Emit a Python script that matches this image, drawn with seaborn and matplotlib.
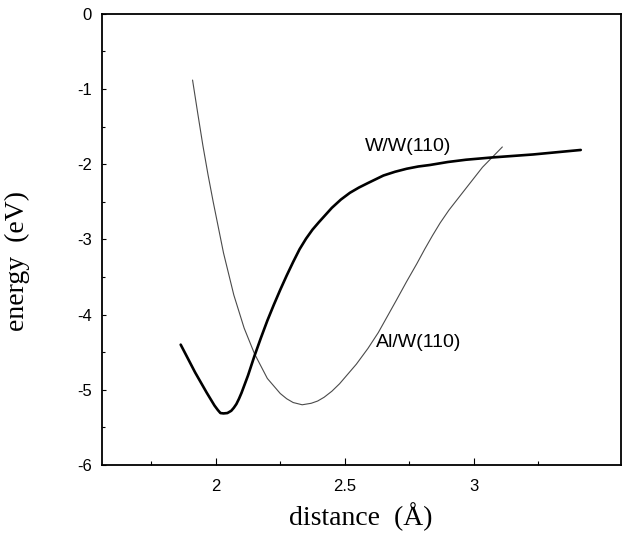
import matplotlib
matplotlib.use("Agg")
import matplotlib.pyplot as plt
import seaborn as sns
import pandas as pd
from matplotlib.ticker import MultipleLocator, FixedLocator

# W/W(110) curve
ww_x = [1.864, 1.92, 1.965, 1.995, 2.008, 2.018, 2.030, 2.045, 2.060, 2.070, 2.080,
        2.090, 2.100, 2.125, 2.150, 2.175, 2.200, 2.225, 2.250, 2.275, 2.300, 2.325,
        2.350, 2.375, 2.400, 2.450, 2.485, 2.520, 2.555, 2.590, 2.620, 2.650, 2.695,
        2.740, 2.785, 2.830, 2.900, 2.970, 3.070, 3.230, 3.415]
ww_y = [-4.40, -4.77, -5.04, -5.21, -5.27, -5.31, -5.315, -5.31, -5.28, -5.24, -5.19,
        -5.12, -5.04, -4.81, -4.55, -4.31, -4.08, -3.87, -3.67, -3.48, -3.30, -3.13,
        -2.99, -2.87, -2.77, -2.58, -2.47, -2.38, -2.31, -2.25, -2.20, -2.15, -2.10,
        -2.06, -2.03, -2.01, -1.97, -1.94, -1.91, -1.87, -1.81]

# Al/W(110) curve
al_x = [1.910, 1.930, 1.950, 1.970, 1.990, 2.030, 2.070, 2.110, 2.150, 2.200, 2.250,
        2.275, 2.300, 2.335, 2.370, 2.395, 2.420, 2.450, 2.480, 2.510, 2.545, 2.590,
        2.630, 2.700, 2.740, 2.780, 2.810, 2.840, 2.870, 2.904, 2.970, 3.034, 3.111]
al_y = [-0.88, -1.32, -1.75, -2.14, -2.50, -3.18, -3.74, -4.18, -4.52, -4.85, -5.05,
        -5.12, -5.17, -5.20, -5.18, -5.15, -5.10, -5.02, -4.92, -4.80, -4.66, -4.45,
        -4.24, -3.81, -3.56, -3.32, -3.13, -2.95, -2.78, -2.61, -2.32, -2.04, -1.77]

x_major = [2, 2.5, 3]
x_minor = [1.75, 2.25, 2.75, 3.25]
y_major = [-6, -5, -4, -3, -2, -1, 0]

sns.set_style("white")
plt.rcParams['font.family'] = ['Liberation Sans', 'DejaVu Sans']
plt.rcParams['text.color'] = 'black'

fig = plt.figure(figsize=(6.36, 5.35), dpi=100)
ax = fig.add_axes([0.160, 0.131, 0.816, 0.843])

df_ww = pd.DataFrame({"distance": ww_x, "energy": ww_y})
df_al = pd.DataFrame({"distance": al_x, "energy": al_y})
sns.lineplot(data=df_al, x="distance", y="energy", ax=ax, color="#4a4a4a",
             linewidth=0.8, sort=False, estimator=None)
sns.lineplot(data=df_ww, x="distance", y="energy", ax=ax, color="black",
             linewidth=1.9, sort=False, estimator=None)
for ln in ax.lines:
    ln.set_solid_joinstyle('round')

ax.set_xlim(1.558, 3.57)
ax.set_ylim(-6, 0)

ax.xaxis.set_major_locator(FixedLocator(x_major))
ax.xaxis.set_minor_locator(FixedLocator(x_minor))
ax.yaxis.set_major_locator(FixedLocator(y_major))
ax.yaxis.set_minor_locator(MultipleLocator(0.5))
ax.set_xticklabels(["2", "2.5", "3"])
ax.set_yticklabels([str(v) for v in y_major])

ax.tick_params(axis='both', which='both', bottom=True, left=True, top=False,
               right=False, direction='in', color='black')
ax.tick_params(axis='x', which='major', length=5, width=0.8,
               labelsize=12, pad=10, labelcolor='black')
ax.tick_params(axis='x', which='minor', length=3, width=0.8)
ax.tick_params(axis='y', which='major', length=3, width=0.8,
               labelsize=12, pad=7, labelcolor='black')
ax.tick_params(axis='y', which='minor', length=2, width=0.8)

for s in ax.spines.values():
    s.set_visible(True)
    s.set_color('black')
    s.set_linewidth(1.3)

ax.set_xlabel("distance  (Å)", family=['Liberation Serif', 'DejaVu Serif'],
              fontsize=20, labelpad=6, color='black')
ax.set_ylabel("energy  (eV)", family=['Liberation Serif', 'DejaVu Serif'],
              fontsize=20, color='black')
ax.yaxis.set_label_coords(-0.139, 0.452)

ax.text(2.58, -1.76, "W/W(110)", fontsize=14, va='center', ha='left', color='black')
ax.text(2.62, -4.37, "Al/W(110)", fontsize=14, va='center', ha='left', color='black')

fig.savefig("out.png", dpi=100)
